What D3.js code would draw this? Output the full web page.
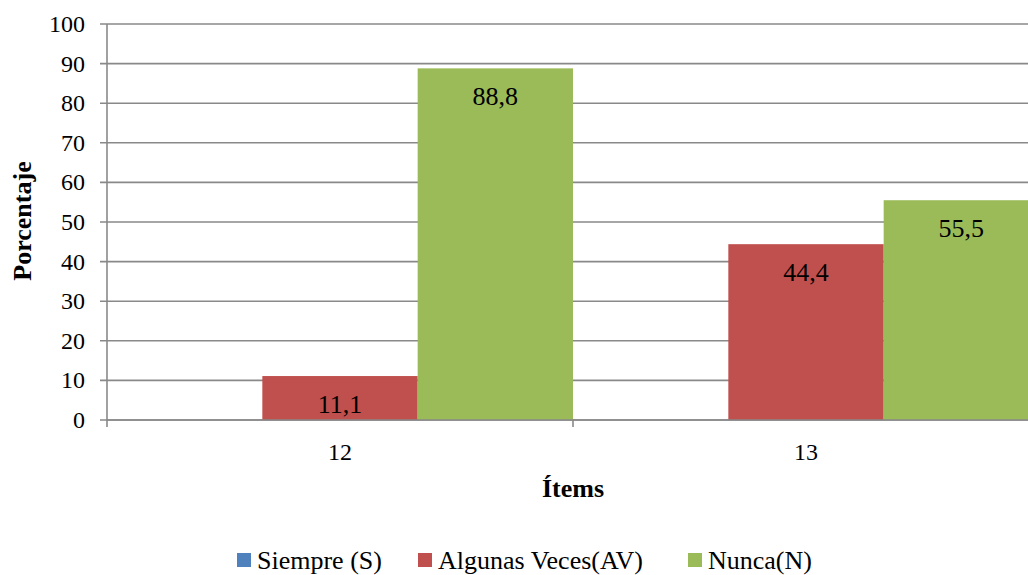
<!DOCTYPE html>
<html>
<head>
<meta charset="utf-8">
<script src="https://cdn.jsdelivr.net/npm/d3@7"></script>
<style>
  html, body { margin: 0; padding: 0; background: #fff; }
  svg { display: block; }
  svg text { font-family: "Liberation Serif", "Times New Roman", Times, serif; fill: #000; }
</style>
</head>
<body>
<svg id="chart" width="1028" height="575"></svg>
<script>
// Items on the x axis
const items = ["12", "13"];
// Response series and their percentages per item
const seriesNames = ["Siempre (S)", "Algunas Veces(AV)", "Nunca(N)"];
const siempre = [0, 0];
const algunasVeces = [11.1, 44.4];
const nunca = [88.8, 55.5];
const seriesColors = ["#4F81BD", "#C0504D", "#9BBB59"];
// Y axis ticks
const yTicks = [0, 10, 20, 30, 40, 50, 60, 70, 80, 90, 100];

const seriesValues = [siempre, algunasVeces, nunca];
const rows = items.map((item, i) => ({
  item,
  values: seriesNames.map((name, s) => ({ name, s, value: seriesValues[s][i] }))
}));

const svg = d3.select("#chart");
const W = 1028;
const plotLeft = 107, plotTop = 24, plotBottom = 420, plotRight = 1039;

const x0 = d3.scaleBand().domain(items).range([plotLeft, plotRight]).paddingInner(0).paddingOuter(0);
const x1 = d3.scaleBand().domain(seriesNames).range([0, x0.bandwidth()]).padding(0);
const y = d3.scaleLinear().domain([0, 100]).range([plotBottom, plotTop]);

const gridColor = "#898989";

// Horizontal gridlines with short outer ticks
const grid = svg.append("g");
grid.selectAll("line").data(yTicks).join("line")
  .attr("x1", plotLeft - 7).attr("x2", W)
  .attr("y1", d => y(d)).attr("y2", d => y(d))
  .attr("stroke", gridColor).attr("stroke-width", 1.6);

// Bars
const groups = svg.append("g").selectAll("g").data(rows).join("g")
  .attr("transform", d => `translate(${x0(d.item)},0)`);

groups.selectAll("rect").data(d => d.values.filter(v => v.value > 0)).join("rect")
  .attr("x", d => x1(d.name))
  .attr("width", x1.bandwidth())
  .attr("y", d => y(d.value))
  .attr("height", d => y(0) - y(d.value))
  .attr("fill", d => seriesColors[d.s]);

// Value labels inside the top of each bar
groups.selectAll("text").data(d => d.values.filter(v => v.value > 0)).join("text")
  .attr("x", d => x1(d.name) + x1.bandwidth() / 2)
  .attr("y", d => y(d.value) + 37)
  .attr("text-anchor", "middle")
  .attr("font-size", 26)
  .text(d => d3.format(".1f")(d.value).replace(".", ","));

// Y axis line
svg.append("line")
  .attr("x1", plotLeft).attr("x2", plotLeft)
  .attr("y1", plotTop).attr("y2", plotBottom + 7)
  .attr("stroke", gridColor).attr("stroke-width", 1.6);

// X axis line and category boundary ticks
svg.append("line")
  .attr("x1", plotLeft).attr("x2", W)
  .attr("y1", plotBottom).attr("y2", plotBottom)
  .attr("stroke", gridColor).attr("stroke-width", 1.6);
const bounds = items.map(d => x0(d) + x0.bandwidth());
svg.append("g").selectAll("line").data(bounds).join("line")
  .attr("x1", d => d).attr("x2", d => d)
  .attr("y1", plotBottom).attr("y2", plotBottom + 7)
  .attr("stroke", gridColor).attr("stroke-width", 1.6);

// Y tick labels
svg.append("g").selectAll("text").data(yTicks).join("text")
  .attr("x", 85)
  .attr("y", d => y(d) + 8)
  .attr("text-anchor", "end")
  .attr("font-size", 24)
  .text(d => d);

// X tick labels
svg.append("g").selectAll("text").data(items).join("text")
  .attr("x", d => x0(d) + x0.bandwidth() / 2)
  .attr("y", 460)
  .attr("text-anchor", "middle")
  .attr("font-size", 24)
  .text(d => d);

// Axis titles
svg.append("text")
  .attr("transform", `translate(31,221) rotate(-90)`)
  .attr("text-anchor", "middle")
  .attr("font-size", 26)
  .attr("font-weight", "bold")
  .text("Porcentaje");

svg.append("text")
  .attr("x", 573).attr("y", 497)
  .attr("text-anchor", "middle")
  .attr("font-size", 26)
  .attr("font-weight", "bold")
  .text("Ítems");

// Legend
const legendX = [237, 418, 688];
const legend = svg.append("g").selectAll("g").data(seriesNames).join("g")
  .attr("transform", (d, i) => `translate(${legendX[i]},553)`);
legend.append("rect")
  .attr("width", 14).attr("height", 14)
  .attr("fill", (d, i) => seriesColors[i]);
legend.append("text")
  .attr("x", 20).attr("y", 16)
  .attr("font-size", 26)
  .text(d => d);
</script>
</body>
</html>
